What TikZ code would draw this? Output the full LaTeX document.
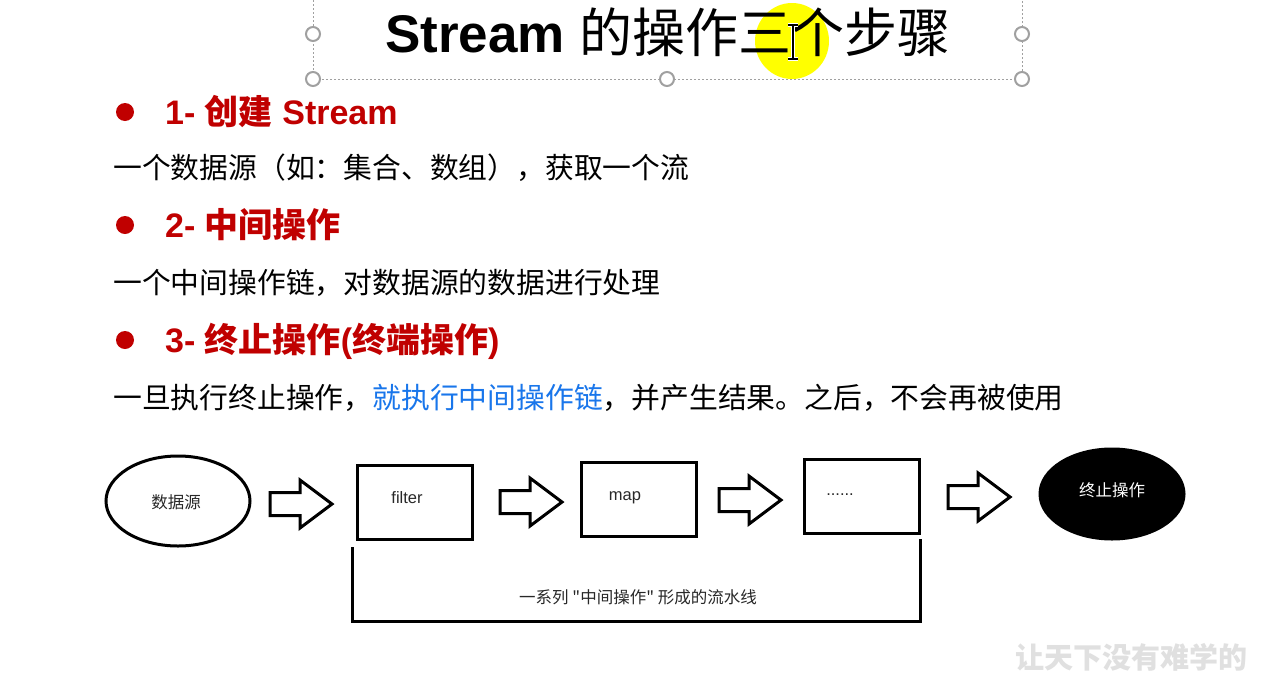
\documentclass[tikz,border=0pt]{standalone}
\usepackage{fontspec}
\setmainfont{Liberation Sans}
\newfontfamily\cjk{Noto Sans CJK SC}
\usetikzlibrary{shapes.geometric}
\definecolor{headred}{RGB}{192,0,0}
\definecolor{linkblue}{RGB}{25,118,235}
\definecolor{handlegray}{RGB}{160,160,160}
\definecolor{captiongray}{RGB}{40,40,40}
\definecolor{marker}{RGB}{255,255,0}
\newcommand{\fs}[1]{\fontsize{#1pt}{#1pt}\selectfont}
\tikzset{
  blockarrow/.pic={
    \draw[line width=3pt, line join=miter, fill=white]
      (0,-11.5) -- (30,-11.5) -- (30,-24) -- (62,0) -- (30,24) -- (30,11.5) -- (0,11.5) -- cycle;
  }
}
\begin{document}
\begin{tikzpicture}[x=1pt,y=-1pt,
  stagebox/.style={draw=black, line width=3pt, minimum width=115pt, minimum height=74pt, inner sep=0pt},
  pill/.style={ellipse, draw=black, line width=3pt, minimum width=144pt, minimum height=90pt, inner sep=0pt},
  handle/.style={circle, draw=handlegray, line width=2pt, fill=white, minimum size=14pt, inner sep=0pt},
  bullet/.style={circle, fill=headred, minimum size=18pt, inner sep=0pt},
  heading/.style={anchor=base west, inner sep=0pt, text=headred, font=\fs{34}\bfseries},
  bodyline/.style={anchor=base west, inner sep=0pt, font=\cjk\fs{28.8}},
  small/.style={inner sep=0pt, font=\fs{16.5}, text=captiongray}]
\useasboundingbox[fill=white] (0,0) rectangle (1263,691);

% selection frame around the title
\draw[handlegray, line width=1pt, dash pattern=on 2pt off 2pt] (313,0) -- (313,79) -- (1022,79) -- (1022,0);
\node[handle] (h1) at (313,34) {};
\node[handle] (h2) at (1022,34) {};
\node[handle] (h3) at (313,79) {};
\node[handle] (h4) at (667,79) {};
\node[handle] (h5) at (1022,79) {};

% pointer highlight
\fill[marker] (792,41) ellipse [x radius=37pt, y radius=38pt];

% title
\node[anchor=base, inner sep=0pt] (title) at (668,52)
  {\fs{53}{\bfseries Stream} {\cjk 的操作三个步骤}};

% text cursor
\draw[white, line width=3.2pt] (793,25) -- (793,59) (788,25) -- (798,25) (788,59) -- (798,59);
\draw[black, line width=1.3pt] (793,25) -- (793,59) (788,25) -- (798,25) (788,59) -- (798,59);

% the three steps
\node[bullet] (b1) at (125,112) {};
\node[heading] (s1) at (165,124) {1- {\cjk 创建} Stream};
\node[bodyline] (t1) at (113,178) {一个数据源（如：集合、数组），获取一个流};

\node[bullet] (b2) at (125,225) {};
\node[heading] (s2) at (165,237) {2- {\cjk 中间操作}};
\node[bodyline] (t2) at (113,293) {一个中间操作链，对数据源的数据进行处理};

\node[bullet] (b3) at (125,340) {};
\node[heading] (s3) at (165,352) {3- {\cjk 终止操作}({\cjk 终端操作})};
\node[bodyline] (t3) at (113,408) {一旦执行终止操作，\textcolor{linkblue}{就执行中间操作链}，并产生结果。之后，不会再被使用};

% pipeline
\node[pill] (src) at (178,501) {};
\node[small, font=\cjk\fs{16.5}] (srctxt) at (176,502) {数据源};

\node[stagebox] (filter) at (414.5,502) {};
\node[small] (filtertxt) at (407,498) {filter};

\node[stagebox] (map) at (639,499) {};
\node[small] (maptxt) at (625,498) {map};

\node[stagebox] (more) at (861.5,496.5) {};
\node[small] (moretxt) at (840,495) {......};

\node[pill, fill=black] (end) at (1112,494) {};
\node[small, text=white, font=\cjk\fs{16.5}] (endtxt) at (1112,490) {终止操作};

\pic at (270,504) {blockarrow};
\pic at (500,502) {blockarrow};
\pic at (719,500) {blockarrow};
\pic at (948,497) {blockarrow};

% bracket under the intermediate stages
\coordinate (brtl) at (352,547);
\coordinate (brbl) at (352,621);
\coordinate (brbr) at (920,621);
\coordinate (brtr) at (920,539);
\draw[line width=3pt] (brtl) -- (brbl) -- (brbr) -- (brtr);
\node[small, font=\cjk\fs{16.5}] (pipe) at (638,597) {一系列 "中间操作" 形成的流水线};

% watermark
\node[anchor=base west, inner sep=0pt, text=black!12, font=\cjk\fs{29}\bfseries] (wm) at (1015,668) {让天下没有难学的};
\end{tikzpicture}
\end{document}
